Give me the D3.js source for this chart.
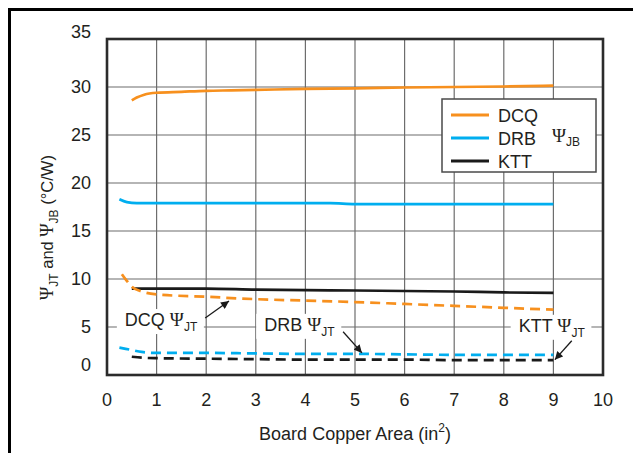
<!DOCTYPE html>
<html lang="en">
<head>
<meta charset="UTF-8">
<title>Psi JT and Psi JB vs Board Copper Area</title>
<script src="https://d3js.org/d3.v7.min.js"></script>
<style>
  body { margin: 0; background: #fff; }
  text { font-family: "Liberation Sans", Arial, sans-serif; fill: #231f20; }
  .psi { font-family: "Liberation Serif", "Times New Roman", serif; }
  .grid line { stroke: #6d6d6d; stroke-width: 1.2px; }
</style>
</head>
<body>
<svg id="chart" width="633" height="453"></svg>
<script>
// ---- data ----
var xTicks = [0, 1, 2, 3, 4, 5, 6, 7, 8, 9, 10];
var yTicks = [0, 5, 10, 15, 20, 25, 30, 35];

var dcqJB_x = [0.5, 0.6, 0.75, 1, 1.5, 2, 2.5, 3, 4, 5, 6, 7, 8, 9];
var dcqJB_y = [28.6, 28.9, 29.2, 29.4, 29.5, 29.6, 29.65, 29.7, 29.8, 29.85, 29.95, 30.0, 30.05, 30.15];
var drbJB_x = [0.25, 0.4, 0.6, 1, 2, 3, 4, 4.5, 5, 6, 7, 8, 9];
var drbJB_y = [18.3, 18.0, 17.9, 17.9, 17.9, 17.9, 17.9, 17.9, 17.8, 17.8, 17.8, 17.8, 17.8];
var kttJB_x = [0.5, 1, 2, 3, 4, 5, 6, 7, 8, 9];
var kttJB_y = [9.0, 9.0, 9.0, 8.9, 8.85, 8.8, 8.75, 8.7, 8.6, 8.55];

var dcqJT_x = [0.3, 0.4, 0.5, 0.7, 1, 2, 3, 4, 5, 6, 7, 8, 9];
var dcqJT_y = [10.5, 9.8, 9.2, 8.7, 8.4, 8.15, 7.9, 7.75, 7.6, 7.4, 7.2, 7.0, 6.8];
var drbJT_x = [0.25, 0.5, 0.7, 1, 2, 3, 4, 5, 6, 7, 8, 9];
var drbJT_y = [2.85, 2.6, 2.4, 2.3, 2.3, 2.25, 2.2, 2.2, 2.15, 2.1, 2.1, 2.1];
var kttJT_x = [0.5, 0.7, 1, 2, 3, 4, 5, 6, 7, 8, 9];
var kttJT_y = [1.9, 1.8, 1.75, 1.7, 1.65, 1.6, 1.6, 1.6, 1.55, 1.55, 1.55];

var legendNames = ["DCQ", "DRB", "KTT"];
var colors = ["#f7901e", "#00aeef", "#1a1a1a"];

// annotation: label position and arrow (from -> to), in data units
var notes = [
  { name: "DCQ", tx: 0.36, ty: 5.1,  x1: 1.98, y1: 5.94, x2: 2.46, y2: 7.7 },
  { name: "DRB", tx: 3.17, ty: 4.6,  x1: 4.76, y1: 4.5,  x2: 5.14, y2: 2.3 },
  { name: "KTT", tx: 8.3,  ty: 4.5,  x1: 9.37, y1: 3.57, x2: 9.03, y2: 1.6 }
];

// ---- layout ----
var svg = d3.select("#chart");
var pLeft = 107, pRight = 603, pTop = 39, pBottom = 375;
var fs = 18, subFs = 12;

var x = d3.scaleLinear().domain([0, 10]).range([pLeft, pRight]);
var y = d3.scaleLinear().domain([0, 35]).range([pBottom, pTop]);

// outer frame (top and left edges only)
svg.append("path")
  .attr("d", "M9.5,453 L9.5,9.5 L633,9.5")
  .attr("fill", "none").attr("stroke", "#000").attr("stroke-width", 3);

svg.append("defs").append("marker")
  .attr("id", "arrow").attr("viewBox", "0 0 10 10")
  .attr("refX", 10).attr("refY", 5)
  .attr("markerWidth", 9).attr("markerHeight", 8)
  .attr("markerUnits", "userSpaceOnUse")
  .attr("orient", "auto")
  .append("path").attr("d", "M0,0 L10,5 L0,10 Z").attr("fill", "#1a1a1a");

// grid
var grid = svg.append("g").attr("class", "grid");
grid.selectAll(".vx").data(xTicks.slice(1, -1)).enter().append("line")
  .attr("x1", d => x(d)).attr("x2", d => x(d))
  .attr("y1", pTop).attr("y2", pBottom);
grid.selectAll(".hy").data(yTicks.slice(1, -1)).enter().append("line")
  .attr("y1", d => y(d)).attr("y2", d => y(d))
  .attr("x1", pLeft).attr("x2", pRight);

// tick labels
svg.append("g").selectAll("text").data(yTicks).enter().append("text")
  .attr("x", 91)
  .attr("y", d => y(d) + (d === 0 ? -10 : d === 35 ? -7 : 0))
  .attr("dy", "0.36em")
  .attr("text-anchor", "end")
  .attr("font-size", fs)
  .text(d => d);

svg.append("g").selectAll("text").data(xTicks).enter().append("text")
  .attr("x", d => x(d))
  .attr("y", 406)
  .attr("text-anchor", "middle")
  .attr("font-size", fs)
  .text(d => d);

// axis titles
var xt = svg.append("text").attr("x", 355).attr("y", 440)
  .attr("text-anchor", "middle").attr("font-size", fs);
xt.append("tspan").text("Board Copper Area (in");
xt.append("tspan").attr("font-size", subFs).attr("dy", -8).text("2");
xt.append("tspan").attr("dy", 8).text(")");

var yt = svg.append("text")
  .attr("transform", "translate(53,300) rotate(-90)")
  .attr("text-anchor", "start").attr("font-size", 16.5);
yt.append("tspan").attr("class", "psi").attr("font-size", 18).text("\u03A8");
yt.append("tspan").attr("font-size", subFs).attr("dy", 5).text("JT");
yt.append("tspan").attr("dy", -5).text(" and ");
yt.append("tspan").attr("class", "psi").attr("font-size", 18).text("\u03A8");
yt.append("tspan").attr("font-size", subFs).attr("dy", 5).text("JB");
yt.append("tspan").attr("dy", -5).text(" (\u00B0C/W)");

// annotation labels (white box behind, over grid)
var noteG = svg.append("g");
notes.forEach(function(n) {
  var g = noteG.append("g");
  var bg = g.append("rect").attr("fill", "#fff");
  var t = g.append("text").attr("x", x(n.tx)).attr("y", y(n.ty)).attr("font-size", fs);
  t.append("tspan").text(n.name + " ");
  t.append("tspan").attr("class", "psi").attr("font-size", 19).text("\u03A8");
  t.append("tspan").attr("font-size", subFs).attr("dy", 5).text("JT");
  var b = t.node().getBBox();
  bg.attr("x", b.x - 8).attr("y", b.y).attr("width", b.width + 14).attr("height", b.height);
});

// series
var line = d3.line().x(d => x(d[0])).y(d => y(d[1])).curve(d3.curveMonotoneX);
function pts(xs, ys) { return xs.map((v, i) => [v, ys[i]]); }

var series = [
  { d: pts(dcqJB_x, dcqJB_y), c: colors[0], dash: null },
  { d: pts(drbJB_x, drbJB_y), c: colors[1], dash: null },
  { d: pts(kttJB_x, kttJB_y), c: colors[2], dash: null },
  { d: pts(dcqJT_x, dcqJT_y), c: colors[0], dash: "10,6" },
  { d: pts(drbJT_x, drbJT_y), c: colors[1], dash: "10,6" },
  { d: pts(kttJT_x, kttJT_y), c: colors[2], dash: "10,6" }
];

svg.append("g").selectAll("path").data(series).enter().append("path")
  .attr("d", s => line(s.d))
  .attr("fill", "none")
  .attr("stroke", s => s.c)
  .attr("stroke-width", 2.7)
  .attr("stroke-dasharray", s => s.dash);

// arrows
svg.append("g").selectAll("line").data(notes).enter().append("line")
  .attr("x1", n => x(n.x1)).attr("y1", n => y(n.y1))
  .attr("x2", n => x(n.x2)).attr("y2", n => y(n.y2))
  .attr("stroke", "#1a1a1a").attr("stroke-width", 1.3)
  .attr("marker-end", "url(#arrow)");

// plot frame
svg.append("rect")
  .attr("x", pLeft).attr("y", pTop)
  .attr("width", pRight - pLeft).attr("height", pBottom - pTop)
  .attr("fill", "none").attr("stroke", "#2b2b2b").attr("stroke-width", 2.6);

// legend
var lg = svg.append("g").attr("transform", "translate(442,99)");
lg.append("rect").attr("width", 154).attr("height", 73)
  .attr("fill", "#fff").attr("stroke", "#4a4a4a").attr("stroke-width", 1.5);
legendNames.forEach(function(name, i) {
  var yy = 16 + i * 23;
  lg.append("line").attr("x1", 9).attr("x2", 47).attr("y1", yy).attr("y2", yy)
    .attr("stroke", colors[i]).attr("stroke-width", 3);
  lg.append("text").attr("x", 56).attr("y", yy + 6.5).attr("font-size", fs).text(name);
});
var lt = lg.append("text").attr("x", 110).attr("y", 43).attr("font-size", fs);
lt.append("tspan").attr("class", "psi").attr("font-size", 19).text("\u03A8");
lt.append("tspan").attr("font-size", subFs).attr("dy", 4).text("JB");
</script>
</body>
</html>
